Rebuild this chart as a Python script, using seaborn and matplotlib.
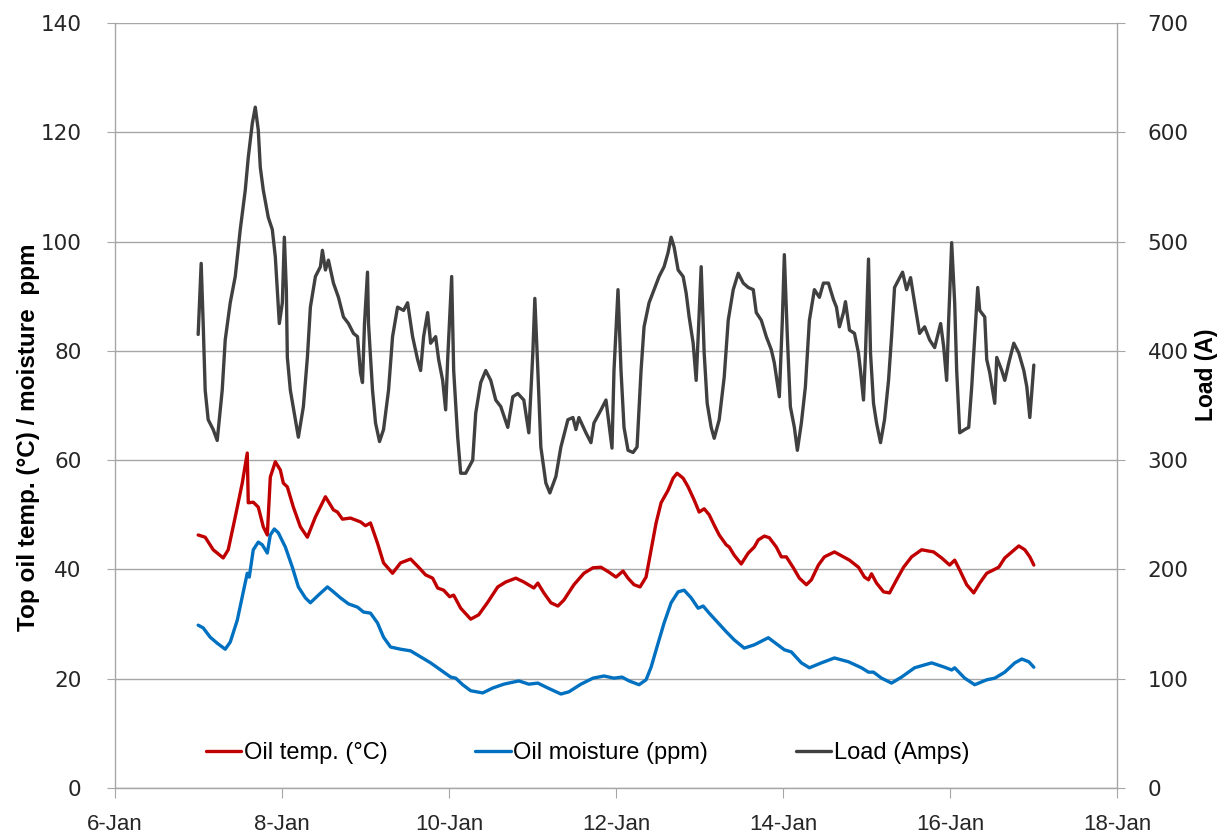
import matplotlib
matplotlib.use("Agg")
import matplotlib.pyplot as plt
import numpy as np
import pandas as pd
import seaborn as sns

# ---------------- data (day of January) ----------------
load_day = [6.996, 7.032, 7.056, 7.080, 7.116, 7.176, 7.224, 7.284, 7.320, 7.380,
            7.440, 7.500, 7.560, 7.596, 7.644, 7.680, 7.716, 7.740, 7.776, 7.836,
            7.884, 7.920, 7.956, 7.968, 8.004, 8.028, 8.052, 8.064, 8.100, 8.160,
            8.196, 8.256, 8.304, 8.340, 8.400, 8.460, 8.484, 8.520, 8.556, 8.616,
            8.676, 8.736, 8.796, 8.856, 8.904, 8.940, 8.964, 8.988, 9.024, 9.036,
            9.084, 9.120, 9.168, 9.216, 9.276, 9.324, 9.384, 9.456, 9.504, 9.564,
            9.624, 9.660, 9.696, 9.744, 9.780, 9.840, 9.876, 9.924, 9.960, 9.984,
            10.032, 10.056, 10.104, 10.140, 10.200, 10.284, 10.320, 10.380, 10.440, 10.500,
            10.560, 10.620, 10.704, 10.764, 10.824, 10.896, 10.956, 11.004, 11.028, 11.064,
            11.100, 11.160, 11.208, 11.280, 11.340, 11.424, 11.484, 11.520, 11.556, 11.640,
            11.700, 11.736, 11.820, 11.880, 11.952, 11.976, 12.024, 12.060, 12.096, 12.144,
            12.204, 12.252, 12.300, 12.336, 12.396, 12.456, 12.516, 12.576, 12.624, 12.660,
            12.696, 12.744, 12.804, 12.840, 12.876, 12.924, 12.960, 12.984, 13.020, 13.056,
            13.092, 13.140, 13.176, 13.236, 13.296, 13.344, 13.404, 13.464, 13.524, 13.584,
            13.644, 13.680, 13.740, 13.800, 13.860, 13.896, 13.956, 13.992, 14.016, 14.052,
            14.088, 14.136, 14.172, 14.220, 14.268, 14.316, 14.376, 14.436, 14.484, 14.544,
            14.604, 14.640, 14.676, 14.724, 14.748, 14.796, 14.856, 14.904, 14.928, 14.964,
            14.988, 15.024, 15.048, 15.084, 15.120, 15.168, 15.216, 15.264, 15.300, 15.336,
            15.384, 15.432, 15.480, 15.528, 15.576, 15.636, 15.696, 15.756, 15.816, 15.888,
            15.924, 15.960, 15.984, 16.020, 16.056, 16.080, 16.116, 16.176, 16.224, 16.260,
            16.296, 16.332, 16.356, 16.416, 16.440, 16.476, 16.536, 16.560, 16.620, 16.656,
            16.704, 16.764, 16.824, 16.884, 16.920, 16.956, 17.004]
load_amps = [415, 480, 425, 364, 337, 328, 318, 364, 410, 444,
             468, 511, 547, 577, 608, 623, 602, 568, 547, 522,
             511, 486, 440, 425, 444, 504, 456, 394, 364, 337,
             321, 349, 394, 440, 468, 477, 492, 474, 483, 462,
             449, 431, 425, 416, 413, 380, 371, 425, 472, 425,
             364, 334, 317, 328, 364, 413, 440, 437, 444, 413,
             392, 382, 413, 435, 407, 413, 392, 373, 346, 392,
             468, 382, 321, 288, 288, 300, 343, 371, 382, 373,
             355, 349, 330, 358, 361, 355, 325, 398, 448, 382,
             312, 279, 270, 285, 312, 337, 339, 328, 339, 325,
             316, 334, 346, 355, 311, 382, 456, 382, 330, 309,
             307, 312, 382, 422, 444, 456, 468, 477, 490, 504,
             495, 474, 468, 453, 431, 407, 373, 413, 477, 398,
             352, 330, 320, 337, 376, 428, 456, 471, 462, 458,
             456, 435, 428, 413, 401, 389, 358, 428, 488, 413,
             349, 330, 309, 334, 367, 428, 456, 449, 462, 462,
             447, 440, 422, 435, 445, 419, 416, 398, 382, 355,
             398, 484, 398, 352, 334, 316, 337, 373, 413, 458,
             465, 472, 456, 467, 444, 416, 422, 410, 403, 425,
             404, 373, 428, 499, 444, 382, 325, 328, 330, 367,
             413, 458, 437, 431, 392, 380, 352, 394, 382, 373,
             389, 407, 398, 382, 367, 339, 387]

temp_day = [6.996, 7.080, 7.176, 7.296, 7.356, 7.440, 7.524, 7.584, 7.596, 7.656,
            7.716, 7.776, 7.824, 7.860, 7.920, 7.980, 8.016, 8.064, 8.136, 8.220,
            8.304, 8.400, 8.520, 8.616, 8.664, 8.724, 8.820, 8.940, 9.000, 9.060,
            9.144, 9.216, 9.324, 9.420, 9.540, 9.636, 9.720, 9.804, 9.864, 9.936,
            10.008, 10.056, 10.140, 10.260, 10.356, 10.464, 10.584, 10.680, 10.800, 10.896,
            11.016, 11.064, 11.136, 11.220, 11.304, 11.376, 11.496, 11.616, 11.724, 11.820,
            11.916, 12.000, 12.084, 12.144, 12.216, 12.288, 12.360, 12.420, 12.480, 12.540,
            12.624, 12.684, 12.732, 12.804, 12.864, 12.936, 12.996, 13.056, 13.116, 13.176,
            13.236, 13.320, 13.356, 13.416, 13.500, 13.584, 13.656, 13.704, 13.776, 13.836,
            13.920, 13.980, 14.040, 14.124, 14.196, 14.280, 14.340, 14.424, 14.496, 14.616,
            14.724, 14.796, 14.904, 14.976, 15.024, 15.060, 15.120, 15.204, 15.276, 15.360,
            15.444, 15.540, 15.660, 15.804, 15.900, 15.996, 16.056, 16.116, 16.200, 16.284,
            16.356, 16.440, 16.584, 16.656, 16.740, 16.824, 16.896, 16.956, 17.004]
temp_c = [46.3, 45.9, 43.6, 42.1, 43.6, 49.6, 55.8, 61.3, 52.2, 52.3,
          51.4, 47.8, 46.3, 56.9, 59.7, 58.2, 55.8, 55.1, 51.4, 47.8,
          45.9, 49.6, 53.3, 50.9, 50.5, 49.2, 49.4, 48.7, 48.0, 48.5,
          44.8, 41.2, 39.3, 41.2, 41.9, 40.4, 39.0, 38.4, 36.6, 36.2,
          35.0, 35.3, 32.9, 30.9, 31.7, 34.0, 36.8, 37.7, 38.4, 37.7,
          36.6, 37.5, 35.7, 33.9, 33.3, 34.4, 37.2, 39.3, 40.3, 40.4,
          39.5, 38.6, 39.7, 38.4, 37.2, 36.8, 38.6, 43.6, 48.5, 52.2,
          54.5, 56.7, 57.6, 56.7, 55.1, 52.7, 50.5, 51.1, 50.0, 48.1,
          46.3, 44.5, 44.1, 42.6, 41.0, 43.0, 44.1, 45.4, 46.1, 45.8,
          44.1, 42.3, 42.3, 40.3, 38.4, 37.2, 38.1, 40.8, 42.3, 43.2,
          42.3, 41.7, 40.4, 38.6, 38.1, 39.2, 37.5, 35.9, 35.7, 38.1,
          40.4, 42.3, 43.6, 43.2, 42.1, 40.8, 41.7, 39.9, 37.2, 35.7,
          37.5, 39.3, 40.4, 42.1, 43.2, 44.3, 43.6, 42.3, 40.8]

moist_day = [6.996, 7.056, 7.140, 7.224, 7.320, 7.380, 7.464, 7.524, 7.584, 7.608,
             7.656, 7.716, 7.764, 7.824, 7.860, 7.908, 7.956, 8.040, 8.124, 8.196,
             8.280, 8.340, 8.436, 8.544, 8.616, 8.700, 8.796, 8.904, 8.976, 9.060,
             9.144, 9.216, 9.300, 9.420, 9.540, 9.660, 9.780, 9.900, 10.020, 10.080,
             10.164, 10.260, 10.404, 10.524, 10.656, 10.836, 10.956, 11.064, 11.184, 11.340,
             11.436, 11.580, 11.724, 11.856, 11.976, 12.072, 12.156, 12.276, 12.360, 12.420,
             12.504, 12.576, 12.660, 12.744, 12.816, 12.900, 12.984, 13.044, 13.116, 13.224,
             13.320, 13.416, 13.536, 13.656, 13.824, 13.920, 14.016, 14.100, 14.220, 14.316,
             14.460, 14.616, 14.784, 14.940, 15.024, 15.084, 15.180, 15.300, 15.420, 15.576,
             15.780, 15.936, 16.020, 16.056, 16.176, 16.296, 16.440, 16.536, 16.656, 16.776,
             16.860, 16.944, 17.004]
moist_ppm = [29.8, 29.3, 27.6, 26.5, 25.4, 26.7, 30.7, 35.0, 39.3, 38.6,
             43.6, 45.0, 44.5, 43.0, 46.3, 47.4, 46.7, 44.1, 40.4, 36.8,
             34.8, 33.9, 35.3, 36.8, 35.9, 34.8, 33.7, 33.1, 32.2, 32.0,
             30.2, 27.6, 25.8, 25.4, 25.1, 24.0, 22.9, 21.6, 20.3, 20.1,
             18.9, 17.8, 17.4, 18.3, 19.0, 19.6, 19.0, 19.2, 18.3, 17.2,
             17.6, 19.0, 20.1, 20.5, 20.1, 20.3, 19.6, 18.9, 19.8, 22.1,
             26.5, 30.2, 33.9, 35.9, 36.2, 34.8, 32.9, 33.3, 32.0, 30.2,
             28.6, 27.1, 25.6, 26.2, 27.5, 26.4, 25.3, 24.9, 22.9, 22.0,
             22.9, 23.8, 23.1, 22.0, 21.2, 21.2, 20.1, 19.2, 20.3, 22.0,
             22.9, 22.1, 21.6, 22.0, 20.1, 18.9, 19.8, 20.1, 21.2, 22.9,
             23.6, 23.1, 22.1]

x_ticks = [6, 8, 10, 12, 14, 16, 18]
x_labels = ["6-Jan", "8-Jan", "10-Jan", "12-Jan", "14-Jan", "16-Jan", "18-Jan"]
left_ticks = [0, 20, 40, 60, 80, 100, 120, 140]
right_ticks = [0, 100, 200, 300, 400, 500, 600, 700]

series_names = ["Oil temp. (°C)", "Oil moisture (ppm)", "Load (Amps)"]
left_label = "Top oil temp. (°C) / moisture  ppm"
right_label = "Load (A)"

# ---------------- styling ----------------
sns.set_style("white")
plt.rcParams['font.family'] = ['DejaVu Sans']
narrow = ['Liberation Sans Narrow', 'Liberation Sans', 'DejaVu Sans']

RED = "#C00000"
BLUE = "#0070C0"
GREY = "#404040"
AXC = "#a6a6a6"
TXT = "#262626"

fig = plt.figure(figsize=(12.21, 8.36), dpi=100)
ax = fig.add_axes([115 / 1221, 1 - 788 / 836, (1117 - 115) / 1221, (788 - 23) / 836])
ax2 = ax.twinx()

temp_df = pd.DataFrame({"day": temp_day, "val": temp_c})
moist_df = pd.DataFrame({"day": moist_day, "val": moist_ppm})
load_df = pd.DataFrame({"day": load_day, "val": load_amps})

sns.lineplot(data=temp_df, x="day", y="val", ax=ax, color=RED, lw=2.4,
             label=series_names[0], estimator=None)
sns.lineplot(data=moist_df, x="day", y="val", ax=ax, color=BLUE, lw=2.4,
             label=series_names[1], estimator=None)
sns.lineplot(data=load_df, x="day", y="val", ax=ax2, color=GREY, lw=2.4,
             label=series_names[2], estimator=None)

ax.set_xlim(6, 18)
ax.set_ylim(0, 140)
ax2.set_ylim(0, 700)

ax.set_yticks(left_ticks)
ax2.set_yticks(right_ticks)
ax.set_xticks(x_ticks)
ax.set_xticklabels(x_labels, fontfamily=narrow, fontsize=16, color=TXT)

ax.yaxis.grid(True, color=AXC, lw=1.0)
ax.xaxis.grid(False)
ax2.grid(False)

for a in (ax, ax2):
    a.spines['top'].set_visible(False)
    for s in ('left', 'right', 'bottom'):
        a.spines[s].set_color(AXC)
        a.spines[s].set_linewidth(1.0)
ax.spines['right'].set_visible(False)
ax2.spines['left'].set_visible(False)
ax2.spines['bottom'].set_visible(False)

ax.tick_params(axis='y', direction='out', length=6, color=AXC, labelsize=15.5,
               labelcolor=TXT, pad=18, left=True)
ax.tick_params(axis='x', direction='out', length=7, color=AXC, pad=12,
               bottom=True)
ax2.tick_params(axis='y', direction='out', length=6, color=AXC, labelsize=15.5,
                labelcolor=TXT, pad=16, right=True)

ax.set_xlabel("")
ax.set_ylabel(left_label, fontfamily=narrow, fontweight='bold', fontsize=17.5,
              color='black')
ax.yaxis.set_label_coords(-0.075, 0.459)
ax2.set_ylabel(right_label, fontfamily=narrow, fontweight='bold', fontsize=16.5,
               color='black')
ax2.yaxis.set_label_coords(1.078, 0.54)

h1, l1 = ax.get_legend_handles_labels()
h2, l2 = ax2.get_legend_handles_labels()
if ax.get_legend():
    ax.get_legend().remove()
if ax2.get_legend():
    ax2.get_legend().remove()
leg = ax2.legend(h1 + h2, l1 + l2, loc='center', bbox_to_anchor=(0.4716, 0.046),
                 ncol=3, frameon=False, handlelength=1.5, handletextpad=0.12,
                 columnspacing=3.7, prop={'family': narrow, 'size': 17})
for t in leg.get_texts():
    t.set_color('black')

fig.savefig("out.png", dpi=100, facecolor='white')
